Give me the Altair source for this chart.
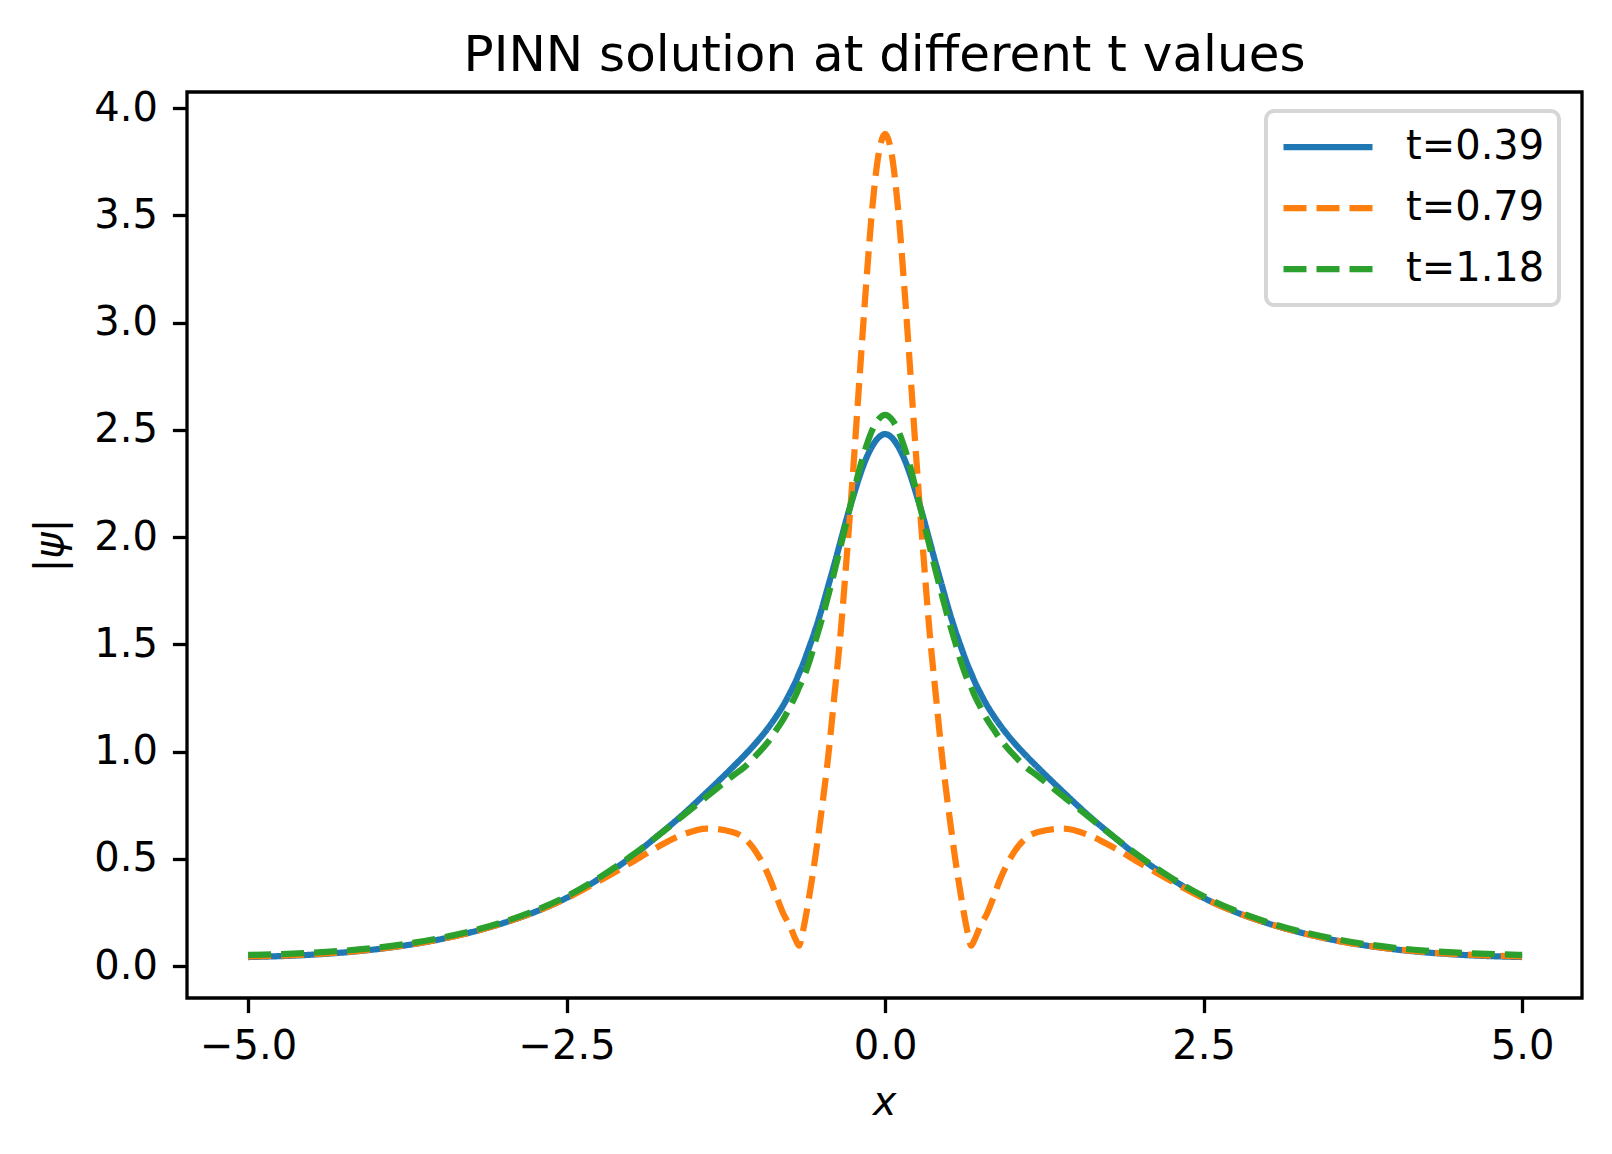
import altair as alt
import pandas as pd

# Right half of the symmetric curves (x >= 0); mirrored for x < 0
x_half = [0.0, 0.05, 0.1, 0.15, 0.2, 0.25, 0.3, 0.35, 0.4, 0.45, 0.5, 0.55, 0.6,
          0.65, 0.675, 0.7, 0.75, 0.8, 0.85, 0.9, 1.0, 1.1, 1.2, 1.4, 1.6, 1.8, 2.0,
          2.25, 2.5, 2.75, 3.0, 3.5, 4.0, 4.5, 5.0]

t039 = [2.48, 2.465, 2.425, 2.365, 2.285, 2.19, 2.09, 1.98, 1.87, 1.765, 1.66, 1.565, 1.48,
        1.40, 1.365, 1.33, 1.27, 1.215, 1.168, 1.125, 1.05, 0.985, 0.925, 0.81, 0.70, 0.60, 0.505,
        0.405, 0.318, 0.252, 0.2, 0.124, 0.078, 0.053, 0.042]

t079 = [3.88, 3.79, 3.54, 3.17, 2.75, 2.32, 1.92, 1.55, 1.25, 0.96, 0.72, 0.50, 0.31,
        0.15, 0.095, 0.12, 0.19, 0.245, 0.32, 0.40, 0.52, 0.594, 0.625, 0.641, 0.61, 0.55, 0.48,
        0.395, 0.316, 0.252, 0.2, 0.124, 0.079, 0.055, 0.045]

t118 = [2.57, 2.55, 2.50, 2.42, 2.32, 2.20, 2.08, 1.955, 1.835, 1.72, 1.61, 1.51, 1.41,
        1.33, 1.30, 1.265, 1.205, 1.15, 1.105, 1.06, 0.99, 0.93, 0.885, 0.79, 0.695, 0.60, 0.51,
        0.41, 0.325, 0.258, 0.205, 0.13, 0.085, 0.062, 0.052]

series_names = ["t=0.39", "t=0.79", "t=1.18"]
series_values = [t039, t079, t118]
colors = ["#1f77b4", "#ff7f0e", "#2ca02c"]
dashes = [[1, 0], [23, 10], [23, 10]]

x_ticks = [-5.0, -2.5, 0.0, 2.5, 5.0]
y_ticks = [0.0, 0.5, 1.0, 1.5, 2.0, 2.5, 3.0, 3.5, 4.0]

rows = []
for name, vals in zip(series_names, series_values):
    xs = [-v for v in reversed(x_half[1:])] + x_half
    ys = list(reversed(vals[1:])) + vals
    for i, (xv, yv) in enumerate(zip(xs, ys)):
        rows.append({"x": xv, "y": yv, "series": name, "order": i})
df = pd.DataFrame(rows)

FONT = "DejaVu Sans"

chart = alt.Chart(df).mark_line(strokeWidth=6.25, interpolate="monotone").encode(
    x=alt.X("x:Q", scale=alt.Scale(domain=[-5.48, 5.47], nice=False, zero=False),
            axis=alt.Axis(values=x_ticks, format=".1f", title="x",
                          titleFontStyle="italic", titleX=697, titleY=116,
                          titleBaseline="alphabetic", labelPadding=14)),
    y=alt.Y("y:Q", scale=alt.Scale(domain=[-0.149, 4.075], nice=False, zero=False),
            axis=alt.Axis(values=y_ticks, format=".1f", title="|ψ|",
                          titleFontStyle="italic", titleX=-125, titleY=453,
                          titleBaseline="alphabetic", titleAngle=270, labelPadding=15)),
    color=alt.Color("series:N", title=None,
                    scale=alt.Scale(domain=series_names, range=colors),
                    legend=alt.Legend(orient="none", legendX=1079, legendY=19,
                                      symbolType="stroke", symbolSize=7921,
                                      symbolStrokeWidth=6.25, labelFontSize=40,
                                      labelFont=FONT, labelColor="black",
                                      labelOffset=30, padding=14, rowPadding=17,
                                      clipHeight=44,
                                      fillColor="white", strokeColor="#d6d6d6",
                                      cornerRadius=8)),
    strokeDash=alt.StrokeDash("series:N", title=None,
                              scale=alt.Scale(domain=series_names, range=dashes)),
    order="order:Q",
).properties(
    width=1395,
    height=906,
    title=alt.TitleParams("PINN solution at different t values", font=FONT,
                          fontSize=50, fontWeight="normal", color="black",
                          anchor="middle", offset=-33, baseline="alphabetic",
                          frame="group"),
    autosize=alt.AutoSizeParams(type="none"),
    padding={"left": 179, "top": 84, "right": 20, "bottom": 140},
).configure_view(
    stroke="black", strokeWidth=3.3
).configure_axis(
    grid=False, domain=False, tickColor="black", tickWidth=3.3, tickSize=14.6,
    labelFont=FONT, labelFontSize=40, labelColor="black",
    titleFont=FONT, titleFontSize=40, titleColor="black", titleFontWeight="normal",
).configure_legend(
    strokeWidth=4
)

chart.save("out.html", embed_options={"renderer": "svg", "actions": False})
